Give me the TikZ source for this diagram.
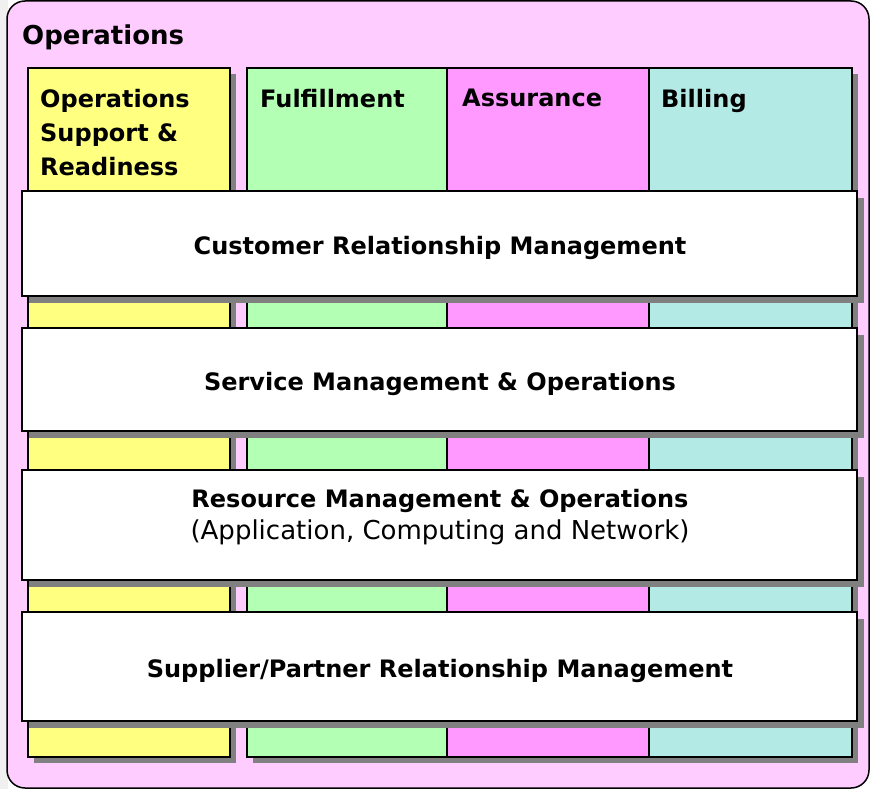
\documentclass[tikz,border=0pt]{standalone}
\usepackage{fontspec}
\setmainfont{DejaVu Sans}
\usetikzlibrary{shadows}
\definecolor{outerpink}{HTML}{FFCCFF}
\definecolor{osryellow}{HTML}{FFFF80}
\definecolor{fulgreen}{HTML}{B3FFB3}
\definecolor{asspink}{HTML}{FF99FF}
\definecolor{bilcyan}{HTML}{B3EAE6}
\definecolor{shadowgray}{HTML}{808080}
\definecolor{sidegray}{HTML}{F0F0F0}
\begin{document}
\begin{tikzpicture}[x=1pt,y=-1pt,
  box/.style={rectangle, inner sep=0pt, outer sep=0pt, anchor=north west},
  colbox/.style={box, draw=black, line width=1.3pt,
    drop shadow={shadow xshift=6pt, shadow yshift=-6pt, fill=shadowgray, opacity=1}},
  bandbox/.style={box, draw=black, line width=2pt, fill=white, minimum width=835pt,
    drop shadow={shadow xshift=7pt, shadow yshift=-7pt, fill=shadowgray, opacity=1}},
  titletext/.style={inner sep=0pt, anchor=base west, font=\fontsize{26}{30}\selectfont\bfseries},
  coltext/.style={inner sep=0pt, anchor=north west, align=left, font=\fontsize{24}{34}\selectfont\bfseries},
  bandtext/.style={inner sep=0pt, anchor=base, font=\fontsize{24}{32}\selectfont\bfseries},
  subtext/.style={inner sep=0pt, anchor=base, font=\fontsize{26}{32}\selectfont}]
\useasboundingbox (0,0) rectangle (870,789);
\fill[white] (0,0) rectangle (870,789);
\fill[sidegray] (0,0) rectangle (8,789);
% outer container
\node[box, draw=black, line width=1.5pt, fill=outerpink, rounded corners=18pt,
  minimum width=862pt, minimum height=787pt] (ops) at (7,1) {};
\node[titletext] (opstitle) at (22,45) {Operations};
% columns
\node[colbox, fill=osryellow, minimum width=202pt, minimum height=689pt] (osr) at (28,68) {};
\node[colbox, fill=fulgreen, minimum width=200pt, minimum height=689pt] (ful) at (247,68) {};
\node[colbox, fill=asspink, minimum width=202pt, minimum height=689pt] (ass) at (447,68) {};
\node[colbox, fill=bilcyan, minimum width=203pt, minimum height=689pt] (bil) at (649,68) {};
\node[coltext] (osrlbl) at (40,89) {Operations\\Support \&\\Readiness};
\node[coltext] (fullbl) at (260,89) {Fulfillment};
\node[coltext] (asslbl) at (462,89) {Assurance};
\node[coltext] (billbl) at (661,89) {Billing};
% bands
\node[bandbox, minimum height=105pt] (crm) at (22,191) {};
\node[bandbox, minimum height=103pt] (smo) at (22,328) {};
\node[bandbox, minimum height=110pt] (rmo) at (22,470) {};
\node[bandbox, minimum height=109pt] (sprm) at (22,612) {};
\node[bandtext] (crmlbl) at (440,254) {Customer Relationship Management};
\node[bandtext] (smolbl) at (440,390) {Service Management \& Operations};
\node[bandtext] (rmolbl) at (440,507) {Resource Management \& Operations};
\node[subtext] (rmosub) at (440,539) {(Application, Computing and Network)};
\node[bandtext] (sprmlbl) at (440,677) {Supplier/Partner Relationship Management};
\end{tikzpicture}
\end{document}
